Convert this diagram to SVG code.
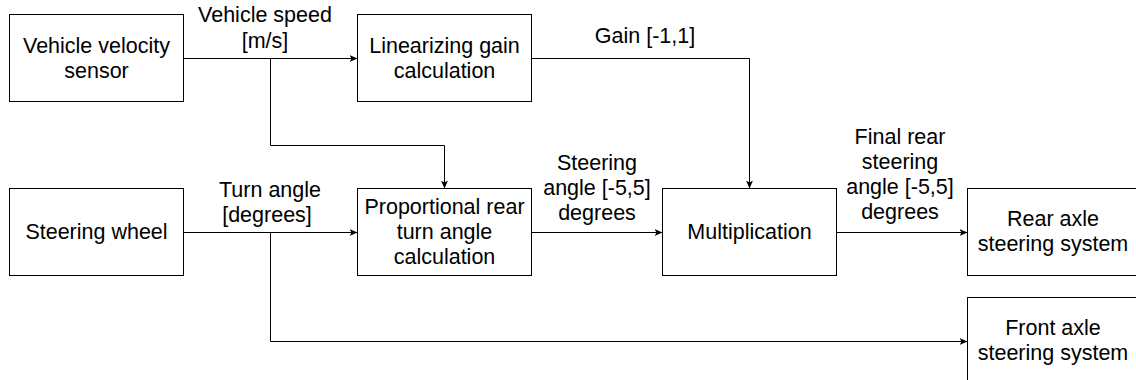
<svg xmlns="http://www.w3.org/2000/svg" width="1136" height="380" viewBox="0 0 1136 380">
<style>
.box{fill:#fff;stroke:#000;stroke-width:1}
.t{font-family:"Liberation Sans",Arial,Helvetica,sans-serif;font-size:21.5px;fill:#000;text-anchor:middle}
.c{fill:none;stroke:#000;stroke-width:1;marker-end:url(#ah)}
</style>
<defs>
<marker id="ah" markerUnits="userSpaceOnUse" markerWidth="10" markerHeight="9" refX="8" refY="4" orient="auto">
<path d="M0,0.5 L8,4 L0,7.5 L2,4 z" fill="#000"/>
</marker>
</defs>
<rect width="1136" height="380" fill="#fff"/>
<g id="connectors">
<path class="c" d="M183.5,58.5 H357.5"/>
<path class="c" d="M270.5,58.5 V145.5 H444.5 V188.5"/>
<path class="c" d="M531.5,58.5 H749.5 V188.5"/>
<path class="c" d="M183.5,232.5 H357.5"/>
<path class="c" d="M270.5,232.5 V341.5 H967.5"/>
<path class="c" d="M531.5,232.5 H662.5"/>
<path class="c" d="M836.5,232.5 H967.5"/>
</g>
<g id="edge-labels">
<text class="t" x="265" y="22">Vehicle speed</text>
<text class="t" x="265" y="48">[m/s]</text>
<text class="t" x="645" y="43">Gain [-1,1]</text>
<text class="t" x="270" y="197">Turn angle</text>
<text class="t" x="267" y="222">[degrees]</text>
<text class="t" x="597" y="170">Steering</text>
<text class="t" x="597" y="195">angle [-5,5]</text>
<text class="t" x="597" y="220">degrees</text>
<text class="t" x="900" y="144">Final rear</text>
<text class="t" x="900" y="169">steering</text>
<text class="t" x="900" y="194">angle [-5,5]</text>
<text class="t" x="900" y="219">degrees</text>
</g>
<g id="vehicle-velocity-sensor">
<rect class="box" x="9.5" y="14.5" width="174" height="87"/>
<text class="t" x="96.5" y="53">Vehicle velocity</text>
<text class="t" x="96.5" y="78">sensor</text>
</g>
<g id="linearizing-gain">
<rect class="box" x="357.5" y="14.5" width="174" height="87"/>
<text class="t" x="444.5" y="53">Linearizing gain</text>
<text class="t" x="444.5" y="78">calculation</text>
</g>
<g id="steering-wheel">
<rect class="box" x="9.5" y="188.5" width="174" height="87"/>
<text class="t" x="96.5" y="239">Steering wheel</text>
</g>
<g id="proportional">
<rect class="box" x="357.5" y="188.5" width="174" height="87"/>
<text class="t" x="444.5" y="214">Proportional rear</text>
<text class="t" x="444.5" y="239">turn angle</text>
<text class="t" x="444.5" y="264">calculation</text>
</g>
<g id="multiplication">
<rect class="box" x="662.5" y="188.5" width="174" height="87"/>
<text class="t" x="749.5" y="239">Multiplication</text>
</g>
<g id="rear-axle">
<rect class="box" x="967.5" y="188.5" width="174" height="87"/>
<text class="t" x="1053" y="226">Rear axle</text>
<text class="t" x="1053" y="251">steering system</text>
</g>
<g id="front-axle">
<rect class="box" x="967.5" y="297.5" width="174" height="87"/>
<text class="t" x="1053" y="335">Front axle</text>
<text class="t" x="1053" y="360">steering system</text>
</g>
</svg>
